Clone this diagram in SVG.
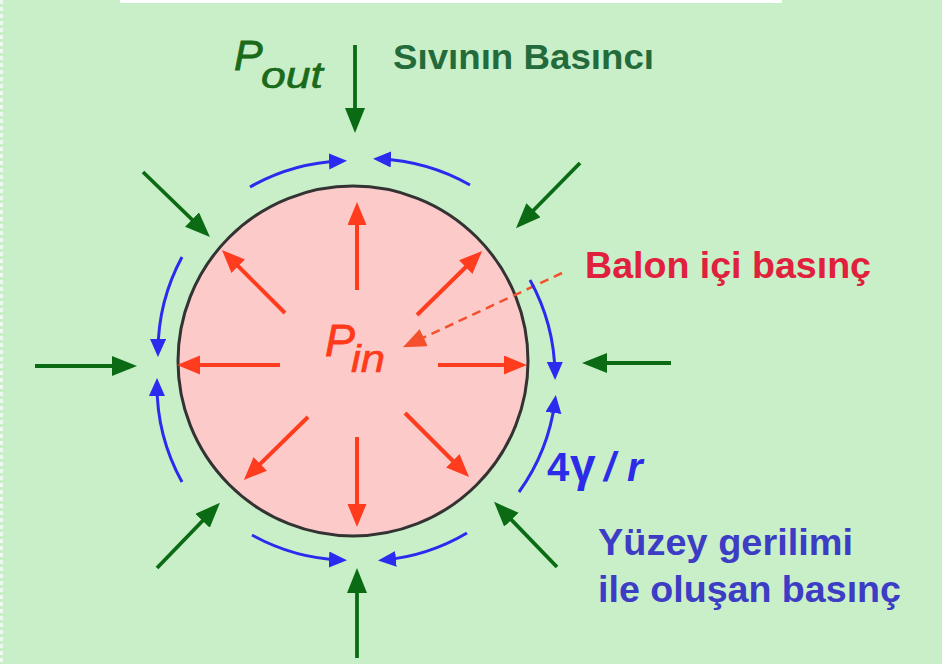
<svg xmlns="http://www.w3.org/2000/svg" width="942" height="664" viewBox="0 0 942 664">
<style>
.g{stroke:#0b6b14;stroke-width:3.8;fill:none;marker-end:url(#mg)}
.r{stroke:#ff3c1e;stroke-width:4;fill:none;marker-end:url(#mr)}
.b{stroke:#2b2bf0;stroke-width:3;fill:none;marker-end:url(#mb)}
.t{font-family:"Liberation Sans",Arial,sans-serif}
</style>
<defs>
<marker id="mg" markerUnits="userSpaceOnUse" markerWidth="28" markerHeight="22" refX="15" refY="10" orient="auto"><path d="M0,0 L25,10 L0,20 z" fill="#0b6b14"/></marker>
<marker id="mr" markerUnits="userSpaceOnUse" markerWidth="26" markerHeight="22" refX="13" refY="9.5" orient="auto"><path d="M0,0 L23,9.5 L0,19 z" fill="#ff3c1e"/></marker>
<marker id="mb" markerUnits="userSpaceOnUse" markerWidth="22" markerHeight="18" refX="12" refY="8" orient="auto"><path d="M0,0 L18,8 L0,16 z" fill="#2b2bf0"/></marker>
<marker id="md" markerUnits="userSpaceOnUse" markerWidth="26" markerHeight="22" refX="13" refY="9.5" orient="auto"><path d="M0,0 L23,9.5 L0,19 z" fill="#f4502e"/></marker>
</defs>
<rect width="942" height="664" fill="#c8efc8"/>
<rect x="120" y="0" width="662" height="3" fill="#ffffff"/>
<line x1="1.5" y1="0" x2="1.5" y2="664" stroke="#eef8ee" stroke-width="3" stroke-dasharray="4 3"/>

<g id="balloon">
<circle cx="353" cy="361" r="175" fill="#fdcaca" stroke="#333333" stroke-width="3"/>
</g>

<g id="connectors">
<g id="outer-pressure">
<line class="g" x1="355" y1="45" x2="355" y2="123"/>
<line class="g" x1="143" y1="172" x2="202.8" y2="230"/>
<line class="g" x1="580" y1="163" x2="523" y2="221"/>
<line class="g" x1="35" y1="366" x2="127" y2="366"/>
<line class="g" x1="671" y1="363" x2="592" y2="363"/>
<line class="g" x1="157" y1="568" x2="213" y2="510"/>
<line class="g" x1="357" y1="658" x2="357" y2="578"/>
<line class="g" x1="557" y1="567" x2="501" y2="509"/>
</g>
<g id="inner-pressure">
<line class="r" x1="357" y1="290" x2="357" y2="212"/>
<line class="r" x1="357" y1="437" x2="357" y2="517"/>
<line class="r" x1="280" y1="365" x2="187" y2="365"/>
<line class="r" x1="438" y1="365" x2="517" y2="365"/>
<line class="r" x1="285" y1="313" x2="229" y2="257"/>
<line class="r" x1="417" y1="315" x2="475" y2="258"/>
<line class="r" x1="308" y1="417" x2="251" y2="473"/>
<line class="r" x1="405" y1="413" x2="462" y2="470"/>
<line x1="562" y1="273" x2="412" y2="343" stroke="#f4502e" stroke-width="2.5" stroke-dasharray="9 6" marker-end="url(#md)"/>
</g>
<g id="surface-tension">
<path class="b" d="M250 187 A200 200 0 0 1 341 161"/>
<path class="b" d="M470 185 A200 200 0 0 0 379 159"/>
<path class="b" d="M530 280 A200 200 0 0 1 555 374"/>
<path class="b" d="M519 492 A200 200 0 0 0 555 401"/>
<path class="b" d="M467 533 A200 200 0 0 1 384 560"/>
<path class="b" d="M252 535 A200 200 0 0 0 341 560"/>
<path class="b" d="M182 482 A200 200 0 0 1 157 384"/>
<path class="b" d="M182 257 A200 200 0 0 0 158 351"/>
</g>
</g>

<g id="label-pout">
<text class="t" x="234" y="70" font-size="43" font-style="italic" fill="#1a6a1a" stroke="#1a6a1a" stroke-width="0.8">P</text>
<text class="t" x="261" y="88" font-size="36" font-style="italic" fill="#1a6a1a" stroke="#1a6a1a" stroke-width="0.6" textLength="62" lengthAdjust="spacingAndGlyphs">out</text>
</g>
<g id="label-sivi">
<text class="t" x="393" y="69" font-size="35" font-weight="bold" fill="#236b3b" textLength="261" lengthAdjust="spacingAndGlyphs">Sıvının Basıncı</text>
</g>
<g id="label-balon">
<text class="t" x="585" y="278" font-size="37" font-weight="bold" fill="#e0203c" textLength="286" lengthAdjust="spacingAndGlyphs">Balon içi basınç</text>
</g>
<g id="label-pin">
<text class="t" x="325" y="356" font-size="45" font-style="italic" fill="#ff3a1a" stroke="#ff3a1a" stroke-width="0.8">P</text>
<text class="t" x="351" y="372" font-size="38" font-style="italic" fill="#ff3a1a" stroke="#ff3a1a" stroke-width="0.6" textLength="34" lengthAdjust="spacingAndGlyphs">in</text>
</g>
<g id="label-4yr">
<text class="t" y="481" font-size="40" font-weight="bold" fill="#2b2be8"><tspan x="547">4</tspan><tspan x="570" font-size="46">γ</tspan><tspan x="604" font-style="italic">/</tspan><tspan x="627" font-style="italic">r</tspan></text>
</g>
<g id="label-yuzey">
<text class="t" x="598" y="555" font-size="37" font-weight="bold" fill="#3c3cc4" textLength="255" lengthAdjust="spacingAndGlyphs">Yüzey gerilimi</text>
<text class="t" x="598" y="602" font-size="37" font-weight="bold" fill="#3c3cc4" textLength="303" lengthAdjust="spacingAndGlyphs">ile oluşan basınç</text>
</g>
</svg>
